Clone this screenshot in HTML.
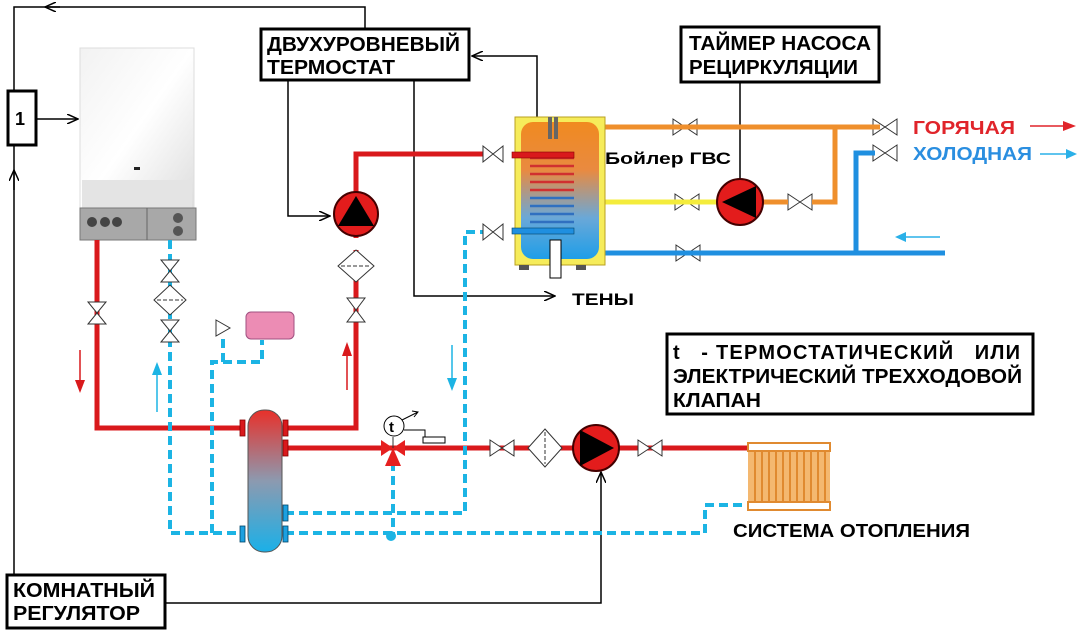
<!DOCTYPE html>
<html><head><meta charset="utf-8"><style>
body{margin:0;background:#fff;width:1088px;height:636px;overflow:hidden}
svg{display:block}
text{font-family:"Liberation Sans","DejaVu Sans",sans-serif;font-weight:bold}
</style></head><body>
<svg width="1088" height="636" viewBox="0 0 1088 636" xmlns="http://www.w3.org/2000/svg">
<defs>
<linearGradient id="blr" x1="0" y1="0" x2="1" y2="1"><stop offset="0" stop-color="#f2f2f2"/><stop offset="0.5" stop-color="#fff"/><stop offset="1" stop-color="#ddd"/></linearGradient>
<linearGradient id="tank" x1="0" y1="0" x2="0" y2="1"><stop offset="0" stop-color="#f08a20"/><stop offset="0.35" stop-color="#e98a40"/><stop offset="0.7" stop-color="#6aa8d8"/><stop offset="1" stop-color="#1e9ee8"/></linearGradient>
<linearGradient id="sep" x1="0" y1="0" x2="0" y2="1"><stop offset="0" stop-color="#e8302a"/><stop offset="0.5" stop-color="#8c9ab0"/><stop offset="1" stop-color="#1ab0e8"/></linearGradient>
<marker id="ar" markerWidth="12" markerHeight="10" refX="11" refY="5" orient="auto" markerUnits="userSpaceOnUse"><path d="M0,0 L11,5 L0,10" fill="none" stroke="#000" stroke-width="1.5"/></marker>
</defs>

<g fill="none" stroke="#000" stroke-width="1.5">
<path d="M365,30 V7 H14 V575"/>
<path d="M60,7 H45" marker-end="url(#ar)"/>
<path d="M14,190 V170" marker-end="url(#ar)"/>
<path d="M36,119 H78" marker-end="url(#ar)"/>
<path d="M288,81 V216 H330" marker-end="url(#ar)"/>
<path d="M414,81 V296 H555" marker-end="url(#ar)"/>
<path d="M537,140 V56 H472" marker-end="url(#ar)"/>
<path d="M740,82 V182"/>
<path d="M165,603 H601 V472" marker-end="url(#ar)"/>
</g>

<rect x="80" y="48" width="114" height="162" fill="url(#blr)" stroke="#ddd"/>
<rect x="82" y="180" width="110" height="30" fill="#e4e4e4"/>
<rect x="80" y="208" width="116" height="32" fill="#a8a8a8" stroke="#777"/>
<line x1="147" y1="208" x2="147" y2="240" stroke="#666"/>
<circle cx="92" cy="222" r="5" fill="#444"/><circle cx="105" cy="222" r="5" fill="#444"/><circle cx="117" cy="222" r="5" fill="#444"/>
<circle cx="178" cy="218" r="5" fill="#555"/><circle cx="178" cy="231" r="5" fill="#555"/>
<rect x="134" y="167" width="6" height="3" fill="#222"/>

<g fill="none" stroke="#d9191c" stroke-width="5">
<path d="M97,240 V428 H245"/>
<path d="M356,238 V154 H485"/>
<path d="M356,250 V428 H285"/>
<path d="M285,448 H748"/>
</g>
<g fill="none" stroke="#1cb4e4" stroke-width="4" stroke-dasharray="9,5">
<path d="M170,240 V533 H245"/>
<path d="M285,533 H705 V505 H748"/>
<path d="M285,513 H465 V232 H485"/>
<path d="M393,462 V533"/>
<path d="M212,533 V362 H262 V340"/>
<path d="M223,362 V335"/>
</g>
<circle cx="391" cy="536" r="5" fill="#1cb4e4"/>

<g stroke-width="1.5">
<path d="M80,350 V385" stroke="#d9191c"/><path d="M75,380 L80,393 L85,380Z" fill="#d9191c"/>
<path d="M157,412 V370" stroke="#1cb4e4"/><path d="M152,375 L157,362 L162,375Z" fill="#1cb4e4"/>
<path d="M347,390 V350" stroke="#d9191c"/><path d="M342,356 L347,342 L352,356Z" fill="#d9191c"/>
<path d="M452,345 V382" stroke="#1cb4e4"/><path d="M447,378 L452,391 L457,378Z" fill="#1cb4e4"/>
</g>

<g fill="#fff" stroke="#333" stroke-width="1">
<path d="M88,302 L106,302 L88,324 L106,324Z"/>
<path d="M161,260 L179,260 L161,282 L179,282Z"/>
<path d="M161,320 L179,320 L161,342 L179,342Z"/>
<path d="M347,298 L365,298 L347,322 L365,322Z"/>
<path d="M483,146 L483,162 L503,146 L503,162Z"/>
<path d="M483,224 L483,240 L503,224 L503,240Z"/>
<path d="M490,440 L490,456 L514,440 L514,456Z"/>
<path d="M638,440 L638,456 L662,440 L662,456Z"/>
<path d="M673,119 L673,135 L697,119 L697,135Z"/>
<path d="M675,194 L675,210 L699,194 L699,210Z"/>
<path d="M788,194 L788,210 L812,194 L812,210Z"/>
<path d="M676,245 L676,261 L700,245 L700,261Z"/>
<path d="M873,119 L873,135 L897,119 L897,135Z"/>
<path d="M873,145 L873,161 L897,145 L897,161Z"/>
<path d="M216,320 L230,328 L216,336Z"/>
</g>
<g fill="#fff" stroke="#333" stroke-width="1">
<path d="M170,285 L186,300 L170,315 L154,300Z"/><path d="M157,300 H183" stroke-dasharray="4,2"/>
<path d="M356,250 L374,266 L356,282 L338,266Z"/><path d="M341,266 H371" stroke-dasharray="4,2"/>
<path d="M545,429 L562,448 L545,467 L528,448Z"/><path d="M545,432 V464" stroke-dasharray="4,2"/>
</g>
<rect x="246" y="312" width="48" height="27" rx="5" fill="#ec8cb4" stroke="#a05080"/>

<rect x="248" y="410" width="34" height="142" rx="16" fill="url(#sep)" stroke="#555"/>
<g fill="#d9191c" stroke="#800" stroke-width="0.8">
<rect x="240" y="420" width="5" height="16"/><rect x="283" y="420" width="5" height="16"/><rect x="283" y="440" width="5" height="16"/>
</g>
<g fill="#1ca0e0" stroke="#046" stroke-width="0.8">
<rect x="283" y="505" width="5" height="16"/><rect x="240" y="526" width="5" height="16"/><rect x="283" y="526" width="5" height="16"/>
</g>

<path d="M381,440 L393,448 L381,456Z M405,440 L393,448 L405,456Z M385,466 L393,448 L401,466Z" fill="#e62020"/>
<line x1="393" y1="437" x2="393" y2="448" stroke="#333"/>
<circle cx="394" cy="426" r="10" fill="#fff" stroke="#000"/>
<text x="389" y="432" font-size="15" fill="#000">t</text>
<path d="M402,420 L418,412 M412,411 L418,412 L414,417" stroke="#000" fill="none"/>
<path d="M404,430 H425 V438" fill="none" stroke="#000"/>
<rect x="423" y="437" width="22" height="6" fill="#fff" stroke="#000"/>

<circle cx="356" cy="214" r="22" fill="#e31c1c" stroke="#400" stroke-width="2"/>
<path d="M356,196 L374,226 L338,226Z" fill="#000"/>
<circle cx="596" cy="448" r="23" fill="#e31c1c" stroke="#400" stroke-width="2"/>
<path d="M580,430 L614,448 L580,466Z" fill="#000"/>

<rect x="748" y="443" width="82" height="67" fill="#f4b870"/>
<rect x="748" y="443" width="82" height="8" fill="#fff" stroke="#e08a30" stroke-width="2"/>
<rect x="748" y="502" width="82" height="8" fill="#fff" stroke="#e08a30" stroke-width="2"/>
<g stroke="#e08a30" stroke-width="2"><path d="M755,451V502M762,451V502M769,451V502M776,451V502M783,451V502M790,451V502M797,451V502M804,451V502M811,451V502M818,451V502M825,451V502"/></g>

<g fill="none" stroke-width="5">
<path d="M600,127 H880" stroke="#ef8f2c"/>
<path d="M835,127 V202 H812" stroke="#ef8f2c"/>
<path d="M788,202 H760" stroke="#ef8f2c"/>
<path d="M605,202 H720" stroke="#f4ec3c"/>
<path d="M600,253 H945" stroke="#1f8fe0"/>
<path d="M856,253 V153 H875" stroke="#1f8fe0"/>
</g>
<circle cx="740" cy="202" r="23" fill="#e31c1c" stroke="#400" stroke-width="2"/>
<path d="M722,202 L756,186 L756,218Z" fill="#000"/>

<rect x="515" y="117" width="90" height="148" fill="#f6ec5a" stroke="#b8a020"/>
<rect x="521" y="122" width="78" height="137" rx="12" fill="url(#tank)"/>
<rect x="548" y="117" width="4" height="22" fill="#666"/><rect x="554" y="117" width="4" height="22" fill="#666"/>
<g stroke="#d03030" stroke-width="2.5"><path d="M530,158H574M530,166H574M530,174H574M530,182H574M530,190H574"/></g>
<g stroke="#3070c0" stroke-width="2.5"><path d="M530,198H574M530,206H574M530,214H574M530,222H574"/></g>
<rect x="512" y="152" width="62" height="6" fill="#d9191c" stroke="#800" stroke-width="0.6"/>
<rect x="512" y="228" width="62" height="6" fill="#1f8fe0" stroke="#046" stroke-width="0.6"/>
<rect x="550" y="240" width="11" height="38" fill="#fff" stroke="#000"/>
<rect x="519" y="265" width="10" height="5" fill="#555"/><rect x="576" y="265" width="10" height="5" fill="#555"/>

<rect x="8" y="91" width="28" height="54" fill="#fff" stroke="#000" stroke-width="3"/>
<text x="15" y="125" font-size="18">1</text>
<rect x="261" y="29" width="208" height="51" fill="#fff" stroke="#000" stroke-width="3"/>
<text x="267" y="51" font-size="20" textLength="193" lengthAdjust="spacingAndGlyphs">ДВУХУРОВНЕВЫЙ</text>
<text x="267" y="74" font-size="20" textLength="128" lengthAdjust="spacingAndGlyphs">ТЕРМОСТАТ</text>
<rect x="681" y="27" width="198" height="55" fill="#fff" stroke="#000" stroke-width="3"/>
<text x="689" y="50" font-size="20" textLength="182" lengthAdjust="spacingAndGlyphs">ТАЙМЕР НАСОСА</text>
<text x="689" y="74" font-size="20" textLength="169" lengthAdjust="spacingAndGlyphs">РЕЦИРКУЛЯЦИИ</text>
<rect x="667" y="334" width="366" height="80" fill="#fff" stroke="#000" stroke-width="3"/>
<text x="673" y="359" font-size="20" xml:space="preserve" textLength="347" lengthAdjust="spacing">t   - ТЕРМОСТАТИЧЕСКИЙ   ИЛИ</text>
<text x="673" y="383" font-size="20" textLength="349" lengthAdjust="spacingAndGlyphs">ЭЛЕКТРИЧЕСКИЙ ТРЕХХОДОВОЙ</text>
<text x="673" y="407" font-size="20" textLength="88" lengthAdjust="spacingAndGlyphs">КЛАПАН</text>
<rect x="7" y="575" width="158" height="53" fill="#fff" stroke="#000" stroke-width="3"/>
<text x="13" y="597" font-size="20" textLength="142" lengthAdjust="spacingAndGlyphs">КОМНАТНЫЙ</text>
<text x="13" y="620" font-size="20" textLength="127" lengthAdjust="spacingAndGlyphs">РЕГУЛЯТОР</text>

<text x="605" y="164" font-size="17" textLength="126" lengthAdjust="spacingAndGlyphs">Бойлер ГВС</text>
<text x="572" y="305" font-size="17" textLength="62" lengthAdjust="spacingAndGlyphs">ТЕНЫ</text>
<text x="913" y="134" font-size="18" fill="#e0242a" textLength="102" lengthAdjust="spacingAndGlyphs">ГОРЯЧАЯ</text>
<text x="913" y="160" font-size="18" fill="#2a8ee0" textLength="119" lengthAdjust="spacingAndGlyphs">ХОЛОДНАЯ</text>
<text x="733" y="537" font-size="18" textLength="237" lengthAdjust="spacingAndGlyphs">СИСТЕМА ОТОПЛЕНИЯ</text>
<path d="M1030,126 H1066" stroke="#e0242a" stroke-width="1.5"/><path d="M1063,121 L1076,126 L1063,131Z" fill="#e0242a"/>
<path d="M1040,154 H1068" stroke="#2ab0e8" stroke-width="1.5"/><path d="M1066,149 L1077,154 L1066,159Z" fill="#2ab0e8"/>
<path d="M940,237 H904" stroke="#2ab0e8" stroke-width="1.5"/><path d="M906,232 L895,237 L906,242Z" fill="#2ab0e8"/>
</svg>
</body></html>
